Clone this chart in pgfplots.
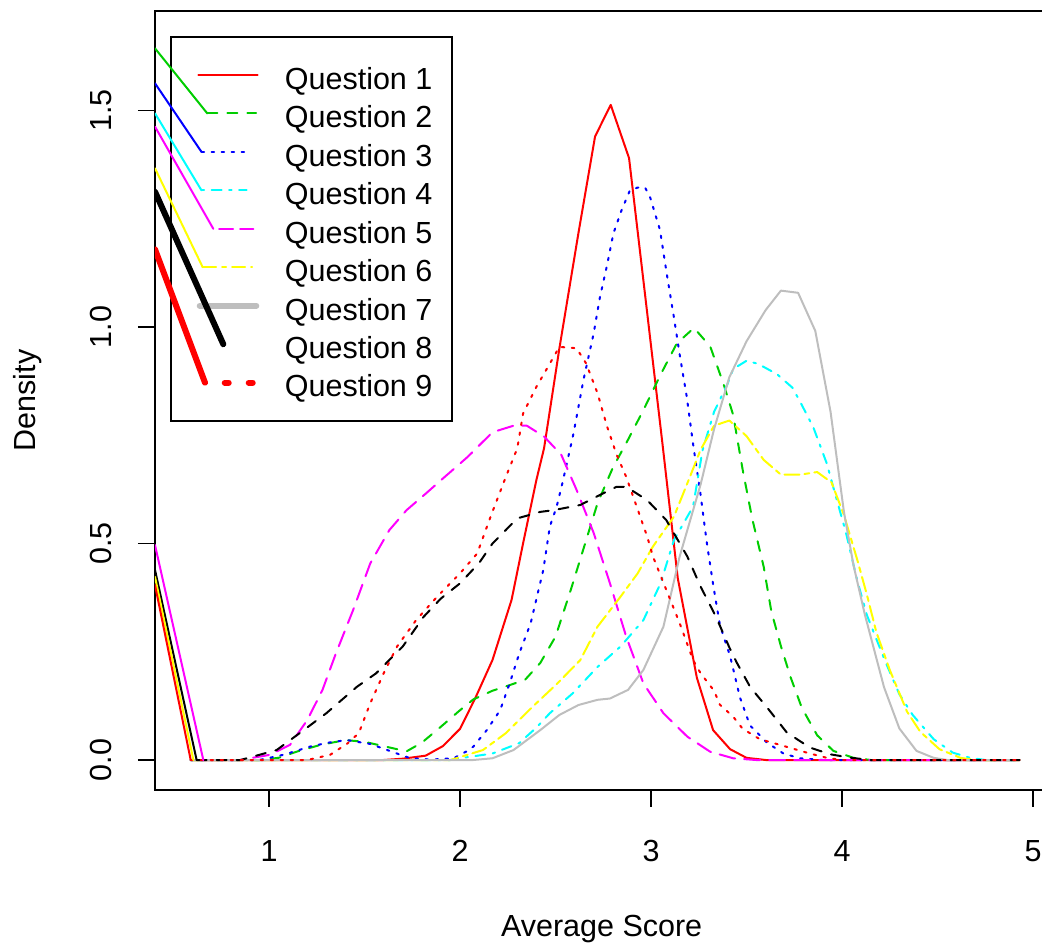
\documentclass[border=0pt]{standalone}
\usepackage{fontspec}
\setmainfont{Liberation Sans}
\usepackage{pgfplots}
\pgfplotsset{compat=1.18}
\definecolor{rgreen}{HTML}{00CD00}
\definecolor{rgray}{HTML}{BEBEBE}
\definecolor{rcyan}{HTML}{00FFFF}
\definecolor{rmag}{HTML}{FF00FF}
\definecolor{ryel}{HTML}{FFFF00}
\newcommand\rfont{\fontsize{30.5}{36}\selectfont}
\pgfplotsset{
  cv/.style={line width=2pt, no marks, line cap=round, line join=round},
  thick line/.style={line width=6pt, no marks, line cap=round, line join=round},
  rdashed/.style={dash pattern=on 10pt off 10pt},
  rdotted/.style={dash pattern=on 2.5pt off 7.5pt},
  rdotdash/.style={dash pattern=on 2.5pt off 7.5pt on 10pt off 7.5pt},
  rlongdash/.style={dash pattern=on 16pt off 9pt},
  rtwodash/.style={dash pattern=on 5pt off 5pt on 15pt off 5pt},
}
\begin{document}
\begin{tikzpicture}
\begin{axis}[
  scale only axis, width=893.3pt, height=779pt,
  xmin=0.403, xmax=5.08, ymin=-0.06928, ymax=1.7298,
  axis line style={line width=1.8pt},
  xtick={1,2,3,4,5}, xticklabels={1,2,3,4,5},
  ytick={0,0.5,1,1.5}, yticklabels={0.0,0.5,1.0,1.5},
  xtick pos=bottom, ytick pos=left,
  tick align=outside, major tick length=17pt,
  every tick/.style={black, line width=1.8pt},
  tick label style={font=\rfont},
  xticklabel style={anchor=base, yshift=-54pt},
  yticklabel style={rotate=90, anchor=south, inner ysep=26pt},
  xlabel={Average Score}, ylabel={Density},
  every axis x label/.style={at={(axis description cs:0.5,-0.18742)}, anchor=base, font=\rfont},
  every axis y label/.style={at={(axis description cs:-0.13433,0.5)}, rotate=90, anchor=base, font=\rfont},
]
% legend box
\draw[line width=1.8pt] (axis cs:0.4869,0.7829) rectangle (axis cs:1.958,1.6697);

% Question 1
\addplot[cv, red] coordinates {(0.59,0) (1.60,0) (1.70,0.003) (1.82,0.01) (1.91,0.032) (2.00,0.072) (2.08,0.143) (2.17,0.231) (2.27,0.37) (2.33,0.50) (2.40,0.647) (2.44,0.72) (2.52,0.95) (2.62,1.217) (2.707,1.44) (2.789,1.513) (2.885,1.39) (2.97,1.07) (3.06,0.73) (3.14,0.42) (3.24,0.19) (3.325,0.069) (3.414,0.025) (3.50,0.005) (3.60,0) (4.93,0)};
% Question 2
\addplot[cv, rgreen, rdashed] coordinates {(0.59,0) (0.95,0) (1.05,0.005) (1.15,0.02) (1.27,0.035) (1.40,0.046) (1.50,0.042) (1.60,0.032) (1.72,0.02) (1.80,0.04) (1.895,0.075) (2.0,0.115) (2.07,0.14) (2.17,0.16) (2.26,0.173) (2.34,0.185) (2.42,0.224) (2.50,0.285) (2.58,0.393) (2.65,0.493) (2.72,0.593) (2.80,0.675) (2.88,0.74) (2.96,0.808) (3.05,0.89) (3.135,0.962) (3.225,0.998) (3.31,0.955) (3.38,0.868) (3.43,0.797) (3.48,0.67) (3.53,0.557) (3.59,0.446) (3.63,0.343) (3.68,0.263) (3.73,0.192) (3.79,0.12) (3.87,0.057) (3.955,0.021) (4.06,0.005) (4.15,0) (4.93,0)};
% Question 3
\addplot[cv, blue, rdotted] coordinates {(0.59,0) (0.95,0) (1.075,0.012) (1.15,0.022) (1.215,0.031) (1.31,0.04) (1.407,0.046) (1.53,0.037) (1.60,0.026) (1.67,0.015) (1.74,0.004) (1.85,0.001) (1.965,0.004) (2.035,0.02) (2.07,0.031) (2.14,0.069) (2.21,0.115) (2.26,0.177) (2.31,0.246) (2.37,0.316) (2.436,0.439) (2.47,0.539) (2.506,0.585) (2.54,0.647) (2.594,0.754) (2.646,0.877) (2.70,0.986) (2.733,1.07) (2.768,1.139) (2.803,1.216) (2.846,1.27) (2.89,1.316) (2.93,1.322) (2.969,1.322) (2.995,1.30) (3.047,1.224) (3.082,1.124) (3.117,1.03) (3.152,0.931) (3.187,0.839) (3.222,0.724) (3.257,0.621) (3.292,0.502) (3.327,0.40) (3.361,0.311) (3.414,0.24) (3.466,0.144) (3.518,0.08) (3.605,0.041) (3.693,0.015) (3.78,0.004) (3.90,0) (4.93,0)};
% Question 4
\addplot[cv, rcyan, rdotdash] coordinates {(0.59,0) (1.95,0) (2.0,0.004) (2.17,0.015) (2.31,0.039) (2.40,0.075) (2.47,0.108) (2.59,0.154) (2.72,0.215) (2.84,0.262) (2.96,0.323) (3.05,0.408) (3.12,0.508) (3.22,0.585) (3.27,0.716) (3.33,0.804) (3.40,0.868) (3.43,0.903) (3.50,0.922) (3.56,0.915) (3.66,0.891) (3.74,0.86) (3.78,0.828) (3.85,0.768) (3.92,0.685) (3.97,0.605) (4.02,0.526) (4.08,0.414) (4.13,0.335) (4.18,0.279) (4.23,0.224) (4.30,0.152) (4.37,0.104) (4.48,0.048) (4.58,0.017) (4.67,0.005) (4.75,0) (4.93,0)};
% Question 5
\addplot[cv, rmag, rlongdash] coordinates {(0.656,0) (0.85,0) (0.90,0.004) (1.005,0.012) (1.11,0.035) (1.20,0.092) (1.28,0.162) (1.35,0.246) (1.44,0.346) (1.53,0.454) (1.63,0.531) (1.72,0.577) (1.82,0.615) (1.91,0.65) (2.04,0.70) (2.17,0.757) (2.28,0.772) (2.35,0.772) (2.44,0.747) (2.53,0.705) (2.61,0.624) (2.70,0.524) (2.785,0.408) (2.87,0.285) (2.96,0.177) (3.065,0.108) (3.19,0.054) (3.31,0.019) (3.43,0.004) (3.55,0) (4.93,0)};
% Question 6
\addplot[cv, ryel, rtwodash] coordinates {(0.604,0) (1.95,0) (1.98,0.004) (2.12,0.023) (2.24,0.062) (2.38,0.123) (2.51,0.177) (2.63,0.231) (2.72,0.308) (2.84,0.377) (2.93,0.431) (3.01,0.493) (3.12,0.562) (3.20,0.65) (3.26,0.717) (3.33,0.772) (3.41,0.784) (3.50,0.748) (3.59,0.693) (3.68,0.659) (3.78,0.659) (3.87,0.665) (3.945,0.641) (4.01,0.566) (4.08,0.462) (4.13,0.382) (4.18,0.295) (4.25,0.208) (4.34,0.112) (4.41,0.065) (4.51,0.025) (4.62,0.005) (4.70,0) (4.93,0)};
% Question 7
\addplot[cv, rgray] coordinates {(0.59,0) (2.07,0) (2.17,0.004) (2.28,0.023) (2.42,0.069) (2.52,0.104) (2.62,0.127) (2.72,0.139) (2.785,0.142) (2.88,0.162) (2.96,0.208) (3.065,0.308) (3.15,0.47) (3.26,0.637) (3.33,0.764) (3.41,0.884) (3.50,0.967) (3.60,1.039) (3.68,1.084) (3.77,1.079) (3.86,0.991) (3.94,0.804) (4.01,0.573) (4.06,0.45) (4.12,0.335) (4.22,0.168) (4.30,0.073) (4.39,0.021) (4.48,0.005) (4.55,0) (4.93,0)};
% Question 8
\addplot[cv, black, rdashed] coordinates {(0.621,0) (0.85,0) (0.95,0.012) (1.04,0.023) (1.16,0.062) (1.30,0.108) (1.46,0.169) (1.56,0.20) (1.70,0.262) (1.81,0.331) (1.90,0.373) (2.0,0.408) (2.10,0.455) (2.17,0.50) (2.30,0.558) (2.42,0.573) (2.49,0.577) (2.63,0.589) (2.75,0.616) (2.82,0.631) (2.87,0.631) (2.98,0.60) (3.08,0.554) (3.19,0.47) (3.26,0.40) (3.34,0.331) (3.41,0.26) (3.45,0.224) (3.52,0.168) (3.61,0.12) (3.71,0.064) (3.83,0.029) (3.94,0.013) (4.05,0.005) (4.15,0) (4.93,0)};
% Question 9
\addplot[cv, red, rdotted] coordinates {(0.59,0) (1.20,0) (1.32,0.012) (1.41,0.038) (1.47,0.062) (1.53,0.131) (1.60,0.20) (1.67,0.262) (1.77,0.323) (1.88,0.377) (2.0,0.431) (2.09,0.477) (2.16,0.562) (2.24,0.654) (2.30,0.72) (2.33,0.80) (2.40,0.862) (2.45,0.90) (2.52,0.954) (2.61,0.951) (2.66,0.916) (2.72,0.847) (2.77,0.77) (2.82,0.705) (2.87,0.654) (2.925,0.585) (2.98,0.516) (3.01,0.47) (3.08,0.393) (3.15,0.316) (3.22,0.231) (3.26,0.20) (3.33,0.16) (3.36,0.128) (3.43,0.10) (3.48,0.072) (3.57,0.048) (3.69,0.033) (3.815,0.017) (3.92,0.005) (4.0,0) (4.93,0)};

% lower-left segments
\addplot[cv, rmag] coordinates {(0.403,0.4965) (0.656,0)};
\addplot[cv, black] coordinates {(0.403,0.439) (0.621,0)};
\addplot[cv, ryel] coordinates {(0.403,0.423) (0.604,0)};
\addplot[cv, red] coordinates {(0.403,0.404) (0.59,0)};

% segments running into the legend, and legend samples
\addplot[cv, red] coordinates {(0.6298,1.5820) (0.9408,1.5820)};
\addplot[cv, rgreen] coordinates {(0.403,1.6436) (0.677,1.4932)};
\addplot[cv, rgreen, rdashed] coordinates {(0.677,1.4932) (0.932,1.4932)};
\addplot[cv, blue] coordinates {(0.403,1.5628) (0.6466,1.4043)};
\addplot[cv, blue, rdotted] coordinates {(0.6466,1.4043) (0.9005,1.4043)};
\addplot[cv, rcyan] coordinates {(0.403,1.4935) (0.6466,1.3155)};
\addplot[cv, rcyan, rdotdash] coordinates {(0.6466,1.3155) (0.8832,1.3155)};
\addplot[cv, rmag] coordinates {(0.403,1.4627) (0.7084,1.2267)};
\addplot[cv, rmag, dash pattern=on 14pt off 7pt] coordinates {(0.7382,1.2267) (0.9178,1.2267)};
\addplot[cv, ryel] coordinates {(0.403,1.3665) (0.6529,1.1379)};
\addplot[cv, ryel, dash pattern=on 13pt off 6pt on 4pt off 6pt] coordinates {(0.6545,1.1379) (0.911,1.1379)};
\addplot[thick line, rgray] coordinates {(0.6372,1.0491) (0.9335,1.0491)};
\addplot[thick line, black] coordinates {(0.403,1.3124) (0.7607,0.9602)};
\addplot[thick line, red] coordinates {(0.403,1.1794) (0.6649,0.8714)};
\addplot[thick line, red, dash pattern=on 4pt off 20pt] coordinates {(0.7681,0.8714) (0.9400,0.8714)};

\node[anchor=base west, inner sep=0, font=\rfont] at (axis cs:1.082,1.5490) {Question 1};
\node[anchor=base west, inner sep=0, font=\rfont] at (axis cs:1.082,1.4601) {Question 2};
\node[anchor=base west, inner sep=0, font=\rfont] at (axis cs:1.082,1.3713) {Question 3};
\node[anchor=base west, inner sep=0, font=\rfont] at (axis cs:1.082,1.2825) {Question 4};
\node[anchor=base west, inner sep=0, font=\rfont] at (axis cs:1.082,1.1937) {Question 5};
\node[anchor=base west, inner sep=0, font=\rfont] at (axis cs:1.082,1.1048) {Question 6};
\node[anchor=base west, inner sep=0, font=\rfont] at (axis cs:1.082,1.0160) {Question 7};
\node[anchor=base west, inner sep=0, font=\rfont] at (axis cs:1.082,0.9272) {Question 8};
\node[anchor=base west, inner sep=0, font=\rfont] at (axis cs:1.082,0.8384) {Question 9};
\end{axis}
\pgfresetboundingbox
\path[use as bounding box] ([shift={(-155pt,11pt)}]current axis.north west) rectangle ([shift={(887pt,-934pt)}]current axis.north west);
\end{tikzpicture}
\end{document}
